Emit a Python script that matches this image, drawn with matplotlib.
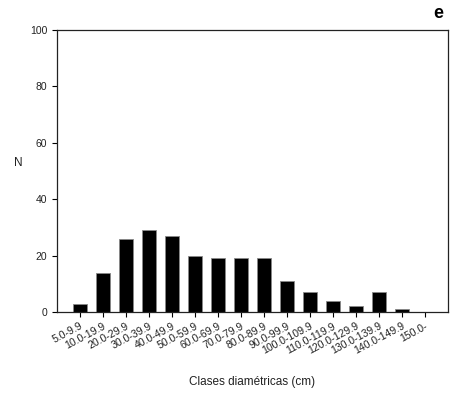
import matplotlib
matplotlib.use("Agg")
import matplotlib.pyplot as plt
import matplotlib.transforms as mtransforms

categories = ["5.0-9.9", "10.0-19.9", "20.0-29.9", "30.0-39.9", "40.0-49.9", "50.0-59.9",
              "60.0-69.9", "70.0-79.9", "80.0-89.9", "90.0-99.9", "100.0-109.9",
              "110.0-119.9", "120.0-129.9", "130.0-139.9", "140.0-149.9", "150.0-"]
counts = [3, 14, 26, 29, 27, 20, 19, 19, 19, 11, 7, 4, 2, 7, 1, 0]
y_ticks = [0, 20, 40, 60, 80, 100]

plt.rcParams['font.family'] = ['Liberation Sans', 'DejaVu Sans']
fig = plt.figure(figsize=(4.5, 3.94), dpi=100)
ax = fig.add_axes([57/450, 1 - 312/394, (448 - 57)/450, (312 - 30)/394])
x = list(range(len(categories)))
ax.bar(x, counts, width=0.64, color='black', edgecolor='#888888', linewidth=0.6)
ax.set_xlim(-1, 16)
ax.set_ylim(0, 100)
ax.set_yticks(y_ticks)
ax.set_xticks(x)
ax.set_xticklabels(categories, rotation=28, ha='right', rotation_mode='anchor', fontsize=7.6,
                   color='#222222')
offset = mtransforms.ScaledTranslation(3/100, 0, fig.dpi_scale_trans)
for lbl in ax.get_xticklabels():
    lbl.set_transform(lbl.get_transform() + offset)
ax.tick_params(axis='y', labelsize=7.5, direction='out', length=3.5, width=0.8,
               labelcolor='#222222')
ax.tick_params(axis='x', direction='out', length=3.5, width=0.8, pad=3)
for s in ax.spines.values():
    s.set_linewidth(0.9)
    s.set_color('#222222')
ax.set_ylabel('N', fontsize=8.5, rotation=0, labelpad=0, va='center', color='#222222')
ax.yaxis.set_label_coords(-(57 - 18)/391, (312 - 163)/282)
ax.set_xlabel('Clases diamétricas (cm)', fontsize=8.5, color='#222222')
ax.xaxis.set_label_coords(0.5, -(376 - 312)/282)
fig.text(443/450, 1 - 14/394, 'e', fontsize=13, fontweight='bold', ha='right', va='center')
fig.savefig('out.png', dpi=100)
